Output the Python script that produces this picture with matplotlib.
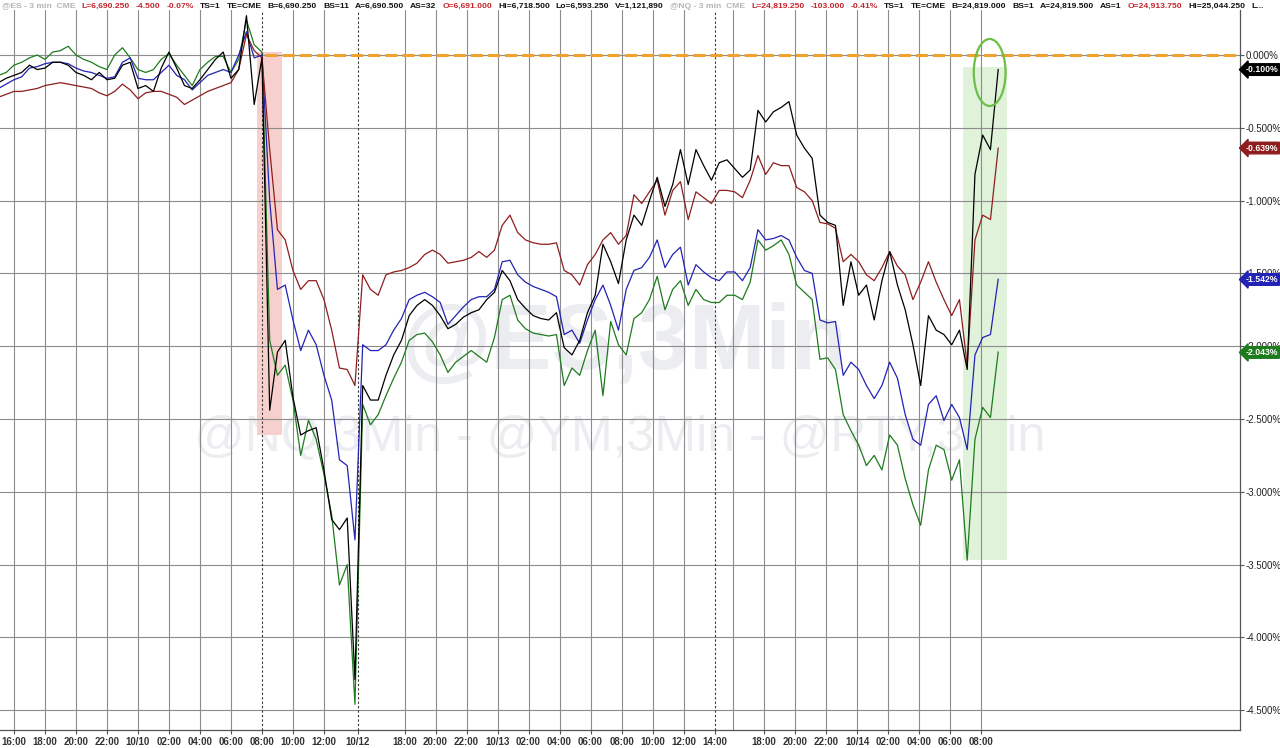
"""Index futures, 3-minute chart: % change, 9-14 Oct."""

import matplotlib
matplotlib.use("Agg")
import matplotlib.pyplot as plt
import numpy as np
from matplotlib.patches import Ellipse, Rectangle

# x axis: trading hours since Thursday 16:00, one reading every 30 minutes
hours = np.arange(-1.0, 64.0, 0.5)

# % change of each contract
nq = [-0.19, -0.16, -0.14, -0.12, -0.07, -0.10, -0.09, -0.05, -0.05, -0.07,
      -0.12, -0.14, -0.17, -0.12, -0.17, -0.16, -0.07, -0.05, -0.23, -0.21,
      -0.25, -0.09, 0.02, -0.09, -0.21, -0.23, -0.17, -0.10, -0.03, 0.02,
      -0.16, -0.10, 0.27, -0.34, -0.02, -2.44, -2.04, -1.96, -2.35, -2.61,
      -2.58, -2.56, -2.85, -3.19, -3.26, -3.18, -4.29, -2.27, -2.37, -2.37,
      -2.20, -2.06, -1.96, -1.79, -1.72, -1.68, -1.72, -1.79, -1.88, -1.85,
      -1.80, -1.77, -1.75, -1.68, -1.63, -1.48, -1.55, -1.68, -1.74, -1.79,
      -1.81, -1.82, -1.77, -2.01, -2.06, -1.96, -1.77, -1.65, -1.30, -1.42,
      -1.57, -1.27, -1.10, -1.17, -1.00, -0.84, -1.04, -0.89, -0.65, -0.89,
      -0.65, -0.76, -0.86, -0.74, -0.72, -0.78, -0.84, -0.79, -0.38, -0.46,
      -0.39, -0.36, -0.32, -0.55, -0.64, -0.71, -1.10, -1.15, -1.17, -1.72,
      -1.42, -1.65, -1.58, -1.82, -1.55, -1.35, -1.58, -1.75, -1.99, -2.27,
      -1.79, -1.89, -1.92, -1.99, -1.89, -2.16, -0.82, -0.55, -0.65, -0.10]
ym = [-0.29, -0.27, -0.25, -0.25, -0.24, -0.23, -0.21, -0.20, -0.19, -0.20,
      -0.21, -0.22, -0.23, -0.26, -0.28, -0.25, -0.20, -0.24, -0.30, -0.26,
      -0.25, -0.25, -0.27, -0.29, -0.34, -0.31, -0.28, -0.25, -0.23, -0.21,
      -0.19, -0.10, 0.14, 0.03, -0.02, -0.65, -1.20, -1.27, -1.48, -1.61,
      -1.55, -1.55, -1.68, -1.89, -2.15, -2.16, -2.27, -1.51, -1.61, -1.65,
      -1.51, -1.49, -1.48, -1.46, -1.43, -1.37, -1.34, -1.37, -1.43, -1.42,
      -1.41, -1.39, -1.35, -1.39, -1.34, -1.17, -1.10, -1.22, -1.27, -1.29,
      -1.30, -1.30, -1.29, -1.48, -1.51, -1.58, -1.44, -1.37, -1.27, -1.22,
      -1.30, -1.24, -0.96, -1.02, -0.94, -0.86, -1.10, -0.93, -0.87, -1.13,
      -0.94, -0.98, -1.02, -0.93, -0.93, -0.94, -0.98, -0.86, -0.69, -0.82,
      -0.74, -0.76, -0.76, -0.91, -0.94, -1.00, -1.15, -1.16, -1.19, -1.42,
      -1.37, -1.42, -1.51, -1.55, -1.46, -1.35, -1.45, -1.51, -1.68, -1.56,
      -1.42, -1.56, -1.68, -1.79, -1.68, -2.13, -1.27, -1.10, -1.13, -0.64]
es = [-0.23, -0.20, -0.17, -0.15, -0.09, -0.08, -0.06, -0.05, -0.05, -0.06,
      -0.09, -0.11, -0.12, -0.14, -0.16, -0.15, -0.05, -0.02, -0.16, -0.17,
      -0.17, -0.12, -0.07, -0.14, -0.17, -0.24, -0.19, -0.14, -0.12, -0.10,
      -0.12, 0.00, 0.16, -0.02, 0.00, -1.00, -1.61, -1.58, -1.82, -2.03,
      -1.89, -1.99, -2.20, -2.37, -2.78, -2.82, -3.33, -1.99, -2.03, -2.03,
      -1.99, -1.89, -1.81, -1.68, -1.65, -1.63, -1.66, -1.70, -1.85, -1.79,
      -1.73, -1.68, -1.66, -1.66, -1.61, -1.42, -1.41, -1.51, -1.56, -1.59,
      -1.61, -1.63, -1.66, -1.92, -1.89, -1.98, -1.82, -1.68, -1.58, -1.72,
      -1.89, -1.61, -1.48, -1.46, -1.39, -1.27, -1.46, -1.37, -1.32, -1.58,
      -1.44, -1.49, -1.53, -1.55, -1.49, -1.49, -1.55, -1.46, -1.20, -1.27,
      -1.26, -1.24, -1.27, -1.39, -1.48, -1.50, -1.82, -1.84, -1.83, -2.20,
      -2.11, -2.16, -2.27, -2.36, -2.27, -2.11, -2.22, -2.47, -2.64, -2.68,
      -2.40, -2.34, -2.51, -2.40, -2.49, -2.71, -2.06, -1.94, -1.92, -1.54]
rty = [-0.14, -0.12, -0.07, -0.05, -0.02, 0.00, -0.03, 0.02, 0.03, 0.06,
       0.00, -0.03, -0.05, -0.08, -0.10, 0.00, 0.05, -0.02, -0.10, -0.12,
       -0.10, -0.03, 0.01, -0.07, -0.14, -0.21, -0.10, -0.05, -0.01, -0.01,
       -0.12, -0.03, 0.24, 0.07, 0.02, -1.96, -2.20, -2.13, -2.37, -2.75,
       -2.51, -2.64, -2.88, -3.16, -3.64, -3.50, -4.46, -2.40, -2.54, -2.47,
       -2.34, -2.22, -2.11, -1.96, -1.92, -1.91, -1.97, -2.06, -2.18, -2.11,
       -2.07, -2.03, -2.07, -2.11, -1.94, -1.68, -1.65, -1.82, -1.88, -1.91,
       -1.92, -1.93, -1.92, -2.27, -2.15, -2.20, -2.03, -1.89, -2.34, -1.83,
       -1.99, -2.06, -1.81, -1.77, -1.68, -1.52, -1.75, -1.61, -1.55, -1.72,
       -1.61, -1.68, -1.70, -1.70, -1.65, -1.65, -1.68, -1.56, -1.27, -1.34,
       -1.31, -1.27, -1.37, -1.58, -1.63, -1.68, -2.09, -2.08, -2.16, -2.47,
       -2.58, -2.68, -2.82, -2.75, -2.85, -2.61, -2.68, -2.91, -3.09, -3.23,
       -2.85, -2.68, -2.71, -2.92, -2.78, -3.47, -2.64, -2.42, -2.49, -2.04]

last_values = [-0.100, -0.639, -1.542, -2.043]

tick_hours = [0, 2, 4, 6, 8, 10, 12, 14, 16, 18, 20,
              22.2, 25.2, 27.2, 29.2, 31.2, 33.2, 35.2, 37.2, 39.2, 41.2, 43.2, 45.2,
              48.4, 50.4, 52.4, 54.4, 56.4, 58.4, 60.4, 62.4]
tick_labels = ["16:00", "18:00", "20:00", "22:00", "10/10", "02:00", "04:00", "06:00",
               "08:00", "10:00", "12:00", "10/12", "18:00", "20:00", "22:00", "10/13",
               "02:00", "04:00", "06:00", "08:00", "10:00", "12:00", "14:00", "18:00",
               "20:00", "22:00", "10/14", "02:00", "04:00", "06:00", "08:00"]
extra_grid_hours = [46.4]
session_breaks = [16, 22.2, 45.2]
pct_ticks = [0.0, -0.5, -1.0, -1.5, -2.0, -2.5, -3.0, -3.5, -4.0, -4.5]

# highlighted windows: (start hour, end hour, top %, bottom %)
crash_window = (15.7, 17.3, 0.02, -2.61)
rally_window = (61.2, 64.1, -0.08, -3.47)

header = [
    ("@ES - 3 min  CME", "gray"), ("L=6,690.250", "red"), ("-4.500", "red"),
    ("-0.07%", "red"), ("TS=1", "black"), ("TE=CME", "black"),
    ("B=6,690.250", "black"), ("BS=11", "black"), ("A=6,690.500", "black"),
    ("AS=32", "black"), ("O=6,691.000", "red"), ("Hi=6,718.500", "black"),
    ("Lo=6,593.250", "black"), ("V=1,121,890", "black"),
    ("@NQ - 3 min  CME", "gray"), ("L=24,819.250", "red"), ("-103.000", "red"),
    ("-0.41%", "red"), ("TS=1", "black"), ("TE=CME", "black"),
    ("B=24,819.000", "black"), ("BS=1", "black"), ("A=24,819.500", "black"),
    ("AS=1", "black"), ("O=24,913.750", "red"), ("Hi=25,044.250", "black"),
    ("L...", "black"),
]

COLORS = {"nq": "#000000", "ym": "#8E1E1E", "es": "#2323B5", "rty": "#1E7B1E"}
HEAD_COLORS = {"gray": "#B5B5B5", "red": "#C4262E", "black": "#111111"}
GRID = "#8C8C8C"
plt.rcParams["font.family"] = ["Liberation Sans", "DejaVu Sans"]

W, H = 1280, 748
fig = plt.figure(figsize=(W / 100, H / 100), dpi=100)
ax = fig.add_axes([0, 1 - 730 / H, 1240 / W, 720 / H])
ax.set_xlim(-0.9, 79.1)
ax.set_ylim(-4.636, 0.309)

# watermarks
ax.text(0.504, 0.535, "@ES,3Min", transform=ax.transAxes, ha="center", va="center",
        fontsize=66, fontweight="bold", color="#EBEDF0", zorder=0.3)
ax.text(0.500, 0.406, "@NQ,3Min - @YM,3Min - @RTY,3Min", transform=ax.transAxes,
        ha="center", va="center", fontsize=36, color="#EBEDF0", zorder=0.3)

for (x0, x1, top, bottom), color in [(crash_window, "#F7D0CE"), (rally_window, "#E0F2D9")]:
    ax.add_patch(Rectangle((x0, bottom), x1 - x0, top - bottom, facecolor=color,
                           edgecolor="none", zorder=0.5))

for v in pct_ticks:
    ax.axhline(v, color=GRID, lw=0.8, zorder=1)
for h in tick_hours + extra_grid_hours:
    if h in session_breaks:
        ax.axvline(h, color="#333333", lw=0.8, ls=(0, (2, 2)), zorder=1)
    else:
        ax.axvline(h, color=GRID, lw=0.8, zorder=1)

for name, series in [("rty", rty), ("es", es), ("ym", ym), ("nq", nq)]:
    ax.plot(hours, series, color=COLORS[name], lw=0.9, zorder=3)

ax.plot([16.2, 79.1], [0, 0], color="#F2A12E", lw=2.2, ls=(0, (4, 1.6)), zorder=4)
ax.add_patch(Ellipse((62.95, -0.12), 2.05, 0.46, fill=False, edgecolor="#6CBF47",
                     lw=1.6, zorder=5))

for spine in ("left", "top"):
    ax.spines[spine].set_visible(False)
for spine in ("right", "bottom"):
    ax.spines[spine].set_color("#555555")
    ax.spines[spine].set_linewidth(0.9)

ax.yaxis.tick_right()
ax.set_yticks(pct_ticks)
ax.set_yticklabels([f"{v:.3f}%" for v in pct_ticks])
ax.tick_params(axis="y", length=3, width=0.8, color="#555555", pad=1,
               labelsize=7, labelcolor="#222222")
ax.set_xticks(tick_hours)
ax.set_xticklabels(tick_labels, fontweight="bold")
ax.tick_params(axis="x", length=3, width=0.8, color="#555555", pad=2,
               labelsize=7, labelcolor="#333333")

for value, name in zip(last_values, ["nq", "ym", "es", "rty"]):
    ax.annotate(f"{value:.3f}%", xy=(1.0, value), xycoords=("axes fraction", "data"),
                xytext=(4, 0), textcoords="offset points", ha="left", va="center",
                fontsize=6.2, fontweight="bold", color="white", zorder=6,
                bbox=dict(boxstyle="larrow,pad=0.15", fc=COLORS[name], ec=COLORS[name]))

# quote line across the top, laid out left to right
renderer = fig.canvas.get_renderer()
x = 2
for text, color in header:
    t = fig.text(x / W, 1 - 6 / H, text, ha="left", va="center", fontsize=6.1,
                 fontweight="bold", color=HEAD_COLORS[color])
    x = t.get_window_extent(renderer).x1 + 6

fig.savefig("out.png", dpi=100)
